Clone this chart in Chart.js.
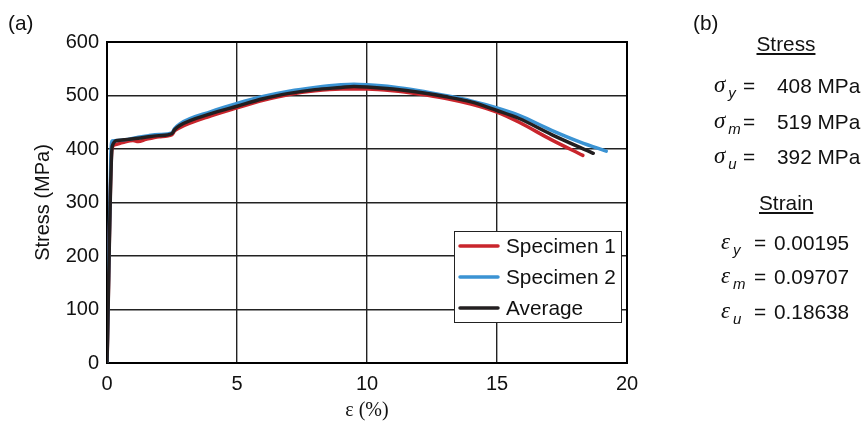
<!DOCTYPE html>
<html>
<head>
<meta charset="utf-8">
<script src="https://cdn.jsdelivr.net/npm/chart.js@4.4.1/dist/chart.umd.min.js"></script>
<style>
  body { margin: 0; background: #fff; }
  #wrap { position: relative; width: 863px; height: 423px; font-family: "Liberation Sans", Arial, sans-serif; color: #111; }
  #chart { position: absolute; left: 0; top: 0; }
  .t { position: absolute; font-size: 20.8px; line-height: 24px; white-space: nowrap; }
  .sym { font-family: "Liberation Serif", serif; font-style: italic; font-size: 23px; }
  .sub { font-style: italic; font-size: 15px; position: relative; top: 6px; margin-left: 3px; }
  .head { text-decoration: underline; text-underline-offset: 2px; text-decoration-thickness: 1.5px; }
</style>
</head>
<body>
<div id="wrap">
  <canvas id="chart" width="863" height="423"></canvas>
</div>
<script>
// Engineering strain (%) and stress (MPa) for each tensile test
const spec1Strain = [0, 0.19, 0.3, 0.6, 1.0, 1.2, 1.5, 2.0, 2.5, 2.6, 2.8, 4, 5, 6, 7, 8, 9, 10, 11, 12, 13, 14, 15, 15.85, 17.1, 18.3];
const spec1Stress = [0, 400, 408, 412, 416, 414, 418, 423, 427, 434, 440, 462, 477, 491, 502, 509, 512, 512, 509, 503, 495, 484, 469, 450, 417, 388];

const spec2Strain = [0, 0.15, 0.2, 0.4, 0.8, 1.2, 1.6, 2.0, 2.5, 2.6, 2.8, 4, 5, 6, 7, 8, 9, 9.5, 10, 11, 12, 13, 14, 15, 15.85, 17.1, 18.2, 19.2];
const spec2Stress = [0, 390, 415, 416, 418, 422, 425, 427, 430, 438, 447, 470, 485, 498, 508, 515, 520, 521, 520, 516, 509, 500, 490, 477, 463, 435, 413, 396];

const avgStrain = [0, 0.2, 0.4, 0.8, 1.2, 1.6, 2.0, 2.5, 2.6, 2.8, 4, 5, 6, 7, 8, 9, 9.5, 10, 11, 12, 13, 14, 15, 15.85, 17.1, 18.7];
const avgStress = [0, 405, 416, 418, 420, 423, 425, 429, 436, 444, 466, 480, 494, 504, 511, 515, 517, 516, 512, 506, 498, 488, 472, 457, 427, 392];

const seriesNames = ['Specimen 1', 'Specimen 2', 'Average'];
const seriesColors = ['#c9252c', '#3b93d3', '#231f20'];

const xTicks = [0, 5, 10, 15, 20];
const yTicks = [0, 100, 200, 300, 400, 500, 600];

// Summary properties, panel (b)
const stressSubs = ['y', 'm', 'u'];
const stressValues = [408, 519, 392];
const strainSubs = ['y', 'm', 'u'];
const strainValues = [0.00195, 0.09707, 0.18638];

const pairs = (xs, ys) => xs.map((x, i) => ({ x: x, y: ys[i] }));

const FONT = '"Liberation Sans", Arial, sans-serif';

// Closed frame around the plotting area
const framePlugin = {
  id: 'frame',
  beforeDatasetsDraw(chart) {
    const { ctx, chartArea: a } = chart;
    ctx.save();
    ctx.strokeStyle = '#000';
    ctx.lineWidth = 2;
    ctx.strokeRect(a.left, a.top, a.right - a.left, a.bottom - a.top);
    ctx.restore();
  }
};

// Boxed legend sitting inside the lower-right of the plot
const boxLegendPlugin = {
  id: 'boxLegend',
  afterDraw(chart) {
    const { ctx, chartArea: a } = chart;
    const ds = chart.data.datasets;
    ctx.save();
    ctx.font = '20.8px ' + FONT;
    const maxW = Math.max(...ds.map(d => ctx.measureText(d.label).width));
    const padL = 6, lineLen = 38, gap = 8, padR = 5, rowH = 31;
    const w = Math.round(padL + lineLen + gap + maxW + padR);
    const h = rowH * ds.length - 2;
    const right = a.right - 6, bottom = a.bottom - 41;
    const left = right - w, top = bottom - h;
    ctx.fillStyle = '#fff';
    ctx.fillRect(left, top, w, h);
    ctx.strokeStyle = '#222';
    ctx.lineWidth = 1;
    ctx.strokeRect(left + 0.5, top + 0.5, w, h);
    ds.forEach((d, i) => {
      const cy = top + 15 + i * rowH;
      ctx.strokeStyle = d.borderColor;
      ctx.lineWidth = 3.5;
      ctx.lineCap = 'round';
      ctx.beginPath();
      ctx.moveTo(left + padL, cy);
      ctx.lineTo(left + padL + lineLen, cy);
      ctx.stroke();
      ctx.fillStyle = '#111';
      ctx.textBaseline = 'middle';
      ctx.textAlign = 'left';
      ctx.fillText(d.label, left + padL + lineLen + gap, cy + 1);
    });
    ctx.restore();
  }
};

const datasets = [
  { label: seriesNames[0], data: pairs(spec1Strain, spec1Stress), borderColor: seriesColors[0], order: 3 },
  { label: seriesNames[1], data: pairs(spec2Strain, spec2Stress), borderColor: seriesColors[1], order: 2 },
  { label: seriesNames[2], data: pairs(avgStrain, avgStress), borderColor: seriesColors[2], order: 1 }
].map(d => Object.assign(d, {
  borderWidth: 3.5,
  pointRadius: 0,
  fill: false,
  cubicInterpolationMode: 'monotone',
  borderCapStyle: 'round',
  borderJoinStyle: 'round'
}));

new Chart(document.getElementById('chart'), {
  type: 'line',
  data: { datasets: datasets },
  plugins: [framePlugin, boxLegendPlugin],
  options: {
    responsive: false,
    animation: false,
    devicePixelRatio: 1,
    layout: { padding: { left: 0, top: 42, right: 236, bottom: 0 } },
    plugins: { legend: { display: false }, tooltip: { enabled: false } },
    scales: {
      x: {
        type: 'linear',
        min: xTicks[0],
        max: xTicks[xTicks.length - 1],
        afterBuildTicks: s => { s.ticks = xTicks.map(v => ({ value: v })); },
        afterFit: s => { s.height = 60; },
        border: { display: false },
        grid: { color: '#222', lineWidth: 1.4, drawTicks: false },
        ticks: { padding: 9, color: '#111', font: { family: FONT, size: 20 } },
        title: {
          display: true,
          text: 'ε (%)',
          color: '#111',
          font: { family: '"Liberation Serif", serif', size: 20 },
          padding: { top: 0, bottom: 0 }
        }
      },
      y: {
        type: 'linear',
        min: yTicks[0],
        max: yTicks[yTicks.length - 1],
        afterBuildTicks: s => { s.ticks = yTicks.map(v => ({ value: v })); },
        afterFit: s => { s.width = 107; },
        border: { display: false },
        grid: { color: '#222', lineWidth: 1.4, drawTicks: false },
        ticks: { padding: 8, color: '#111', font: { family: FONT, size: 20 } },
        title: {
          display: true,
          text: 'Stress (MPa)',
          color: '#111',
          font: { family: FONT, size: 20 },
          padding: { top: 31, bottom: 0 }
        }
      }
    }
  }
});

// Panel labels and the property summary
const wrap = document.getElementById('wrap');
function addText(html, left, centerY, cls) {
  const el = document.createElement('div');
  el.className = 't' + (cls ? ' ' + cls : '');
  el.innerHTML = html;
  el.style.left = left + 'px';
  el.style.top = (centerY - 12) + 'px';
  wrap.appendChild(el);
  return el;
}
function addCentered(html, centerX, centerY, cls) {
  const el = addText(html, 0, centerY, cls);
  el.style.left = (centerX - el.offsetWidth / 2) + 'px';
  return el;
}

addText('(a)', 8, 23);
addText('(b)', 693, 23);

addCentered('Stress', 786, 44, 'head');
const stressRowsY = [86, 122, 157];
stressSubs.forEach((s, i) => {
  addText('<span class="sym">σ</span><span class="sub">' + s + '</span>', 714, stressRowsY[i] - 1);
  addText('=', 743, stressRowsY[i]);
  addText(stressValues[i] + ' MPa', 777, stressRowsY[i]);
});

addCentered('Strain', 786, 203, 'head');
const strainRowsY = [243, 277, 312];
strainSubs.forEach((s, i) => {
  addText('<span class="sym">ε</span><span class="sub">' + s + '</span>', 721, strainRowsY[i] - 1);
  addText('=', 754, strainRowsY[i]);
  addText(strainValues[i].toFixed(5), 774, strainRowsY[i]);
});
</script>
</body>
</html>
